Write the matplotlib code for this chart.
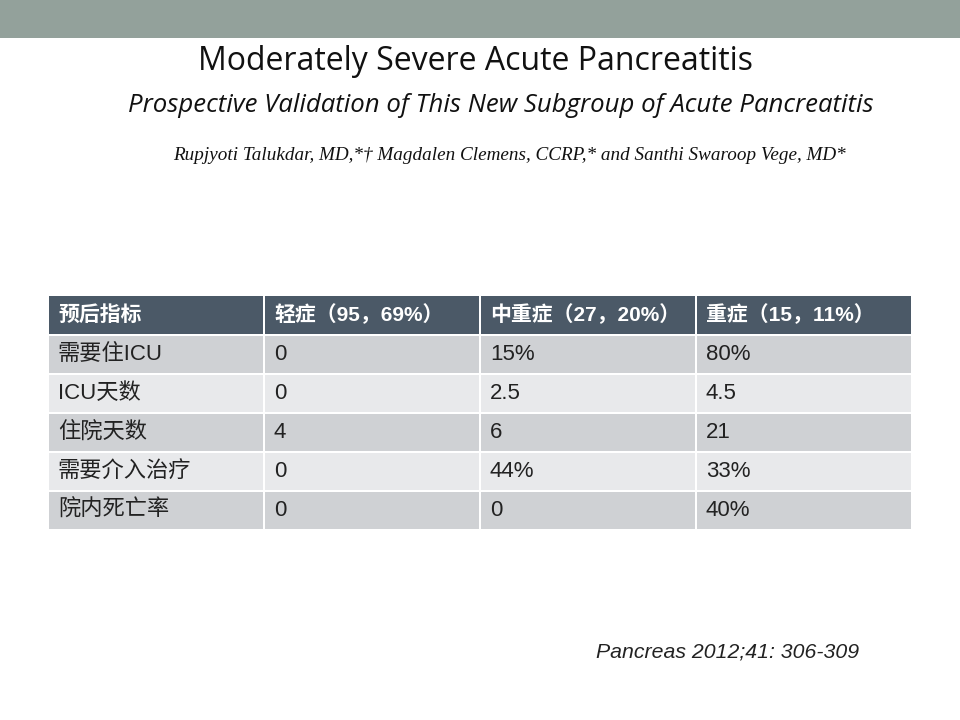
import matplotlib
matplotlib.use("Agg")
import matplotlib.pyplot as plt
from matplotlib.patches import Rectangle

# slide text
title = "Moderately Severe Acute Pancreatitis"
subtitle = "Prospective Validation of This New Subgroup of Acute Pancreatitis"
authors = "Rupjyoti Talukdar, MD,*† Magdalen Clemens, CCRP,* and Santhi Swaroop Vege, MD*"
citation = "Pancreas 2012;41: 306-309"

# table data
header = ["预后指标", "轻症（95，69%）", "中重症（27，20%）", "重症（15，11%）"]
row_labels = ["需要住ICU", "ICU天数", "住院天数", "需要介入治疗", "院内死亡率"]
mild = ["0", "0", "4", "0", "0"]
moderate = ["15%", "2.5", "6", "44%", "0"]
severe = ["80%", "4.5", "21", "33%", "40%"]

W, H = 960, 720
fig = plt.figure(figsize=(W / 100, H / 100), dpi=100)
ax = fig.add_axes([0, 0, 1, 1])
ax.set_xlim(0, W)
ax.set_ylim(H, 0)
ax.axis("off")

# top bar
ax.add_patch(Rectangle((0, 0), W, 38, color="#93a19b", lw=0))

ax.text(476, 62, title, ha="center", va="center", fontsize=23,
        family="Open Sans", color="#111111")
ax.text(501, 106, subtitle, ha="center", va="center", fontsize=18.5,
        family="Open Sans", style="italic", color="#111111")
ax.text(509, 156, authors, ha="center", va="center", fontsize=13.8,
        family="Liberation Serif", style="italic", color="#111111")

# table layout
left, top = 49, 296
col_w = 216
head_h = 38
row_h = 39
gap = 2
mixed = ["Liberation Sans", "Noto Sans CJK SC"]

for j, txt in enumerate(header):
    x0 = left + j * col_w
    ax.add_patch(Rectangle((x0, top), col_w - gap, head_h, color="#4b5967", lw=0))
    ax.text(x0 + 9, top + head_h / 2, txt, ha="left", va="center",
            fontsize=15, fontweight="bold", color="white", family=mixed,
            clip_on=False, zorder=3)

columns = [row_labels, mild, moderate, severe]
for i in range(len(row_labels)):
    y0 = top + head_h + gap + i * row_h
    fill = "#cfd1d4" if i % 2 == 0 else "#e8e9eb"
    for j, col in enumerate(columns):
        x0 = left + j * col_w
        ax.add_patch(Rectangle((x0, y0), col_w - gap, row_h - gap, color=fill, lw=0))
        ax.text(x0 + 9, y0 + (row_h - gap) / 2, col[i], ha="left", va="center",
                fontsize=16, color="#222222", family=mixed)

ax.text(596, 652, citation, ha="left", va="center", fontsize=15.3,
        family="Liberation Sans", style="italic", color="#222222")

fig.savefig("out.png", dpi=100)
